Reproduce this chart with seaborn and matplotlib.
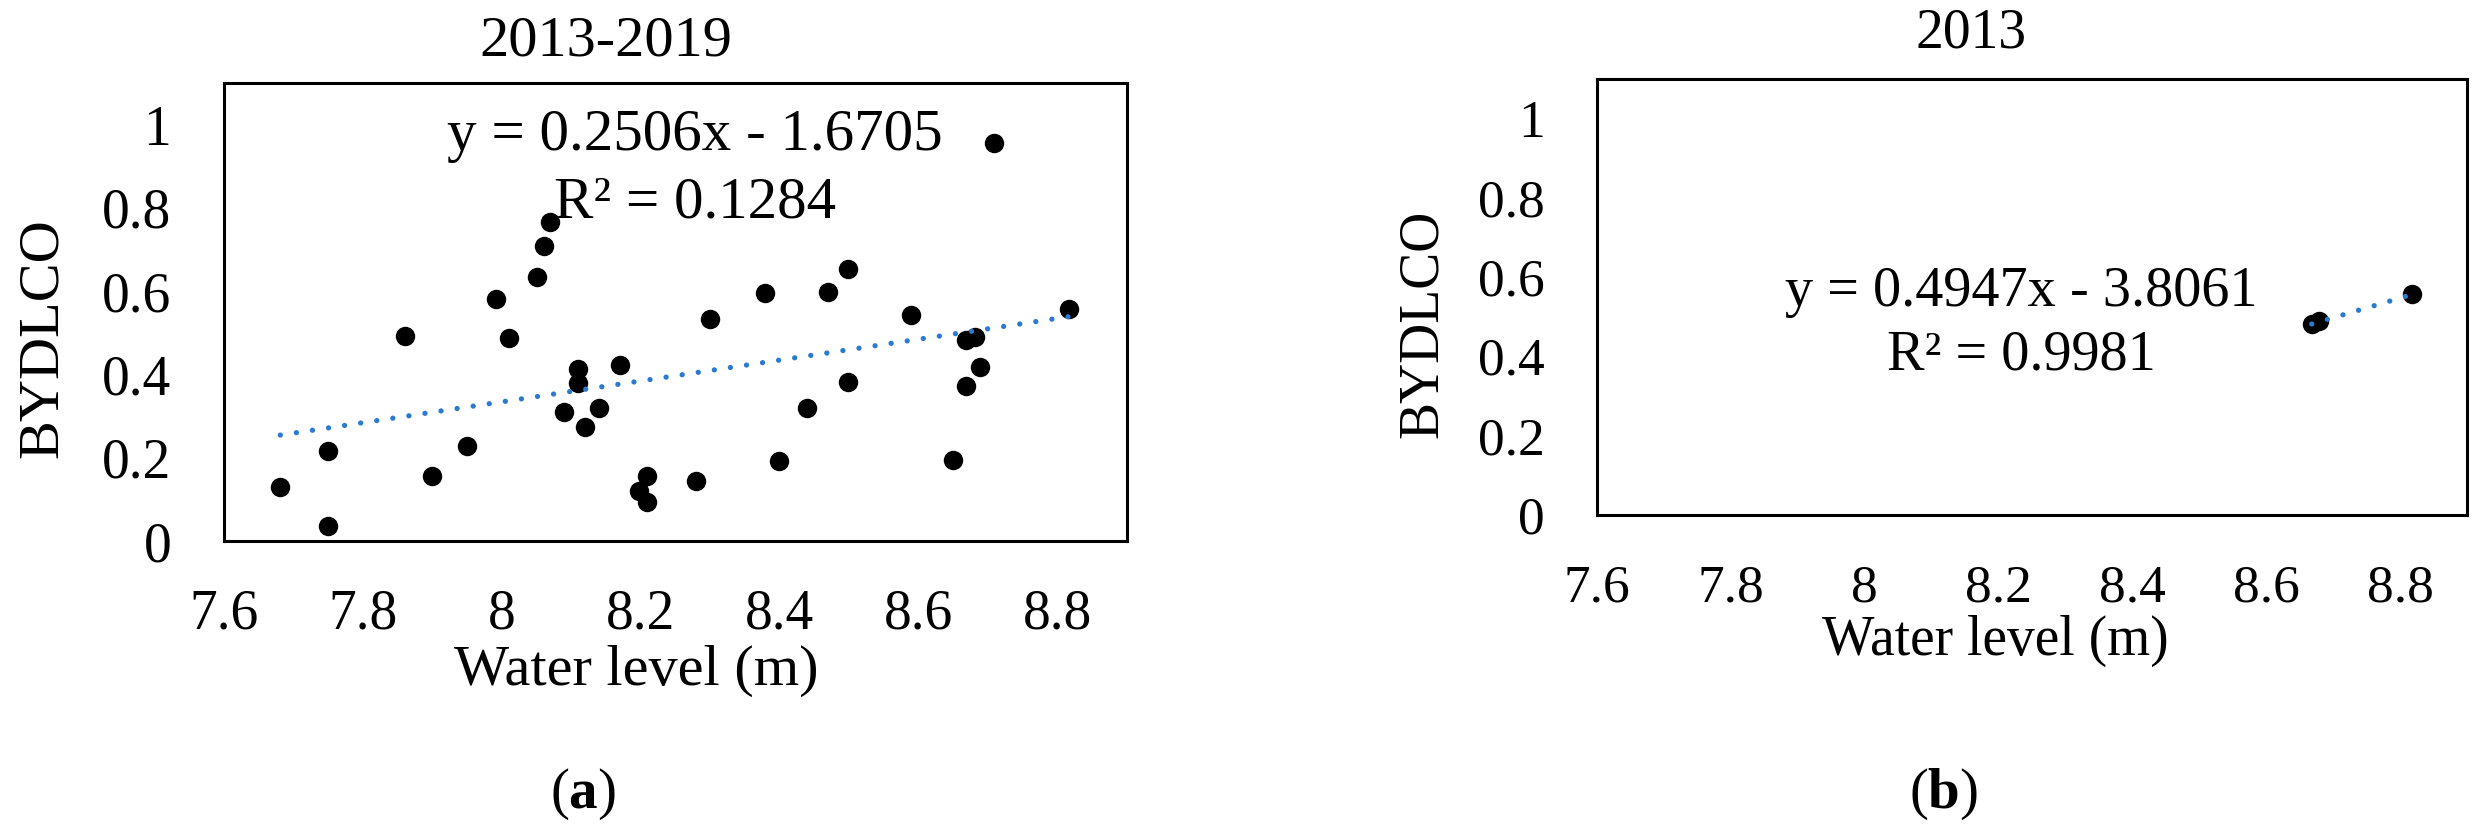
import matplotlib
matplotlib.use("Agg")
import matplotlib.pyplot as plt
import seaborn as sns
import numpy as np
import pandas as pd

# ---------------- data ----------------
water_level_all = [7.681, 7.750, 7.750, 7.861, 7.900, 7.950, 7.991, 8.010, 8.050, 8.060,
                   8.070, 8.089, 8.110, 8.110, 8.120, 8.140, 8.170, 8.209, 8.198, 8.209,
                   8.280, 8.300, 8.379, 8.399, 8.439, 8.469, 8.499, 8.499, 8.589, 8.649,
                   8.668, 8.681, 8.668, 8.688, 8.709, 8.817]
bydlco_all = [0.129, 0.037, 0.216, 0.493, 0.157, 0.227, 0.582, 0.488, 0.634, 0.708,
              0.765, 0.310, 0.413, 0.379, 0.273, 0.319, 0.423, 0.155, 0.119, 0.093,
              0.145, 0.534, 0.596, 0.191, 0.319, 0.598, 0.653, 0.383, 0.543, 0.195,
              0.483, 0.490, 0.373, 0.418, 0.955, 0.558]

water_level_2013 = [8.668, 8.679, 8.818]
bydlco_2013 = [0.482, 0.489, 0.558]

trend_all = {"slope": 0.2506, "intercept": -1.6705, "r2": 0.1284}
trend_2013 = {"slope": 0.4947, "intercept": -3.8061, "r2": 0.9981}

titles = ["2013-2019", "2013"]
panel_tags = ["a", "b"]
x_ticks = [7.6, 7.8, 8.0, 8.2, 8.4, 8.6, 8.8]
x_tick_labels = ["7.6", "7.8", "8", "8.2", "8.4", "8.6", "8.8"]
y_ticks = [0, 0.2, 0.4, 0.6, 0.8, 1.0]
y_tick_labels = ["0", "0.2", "0.4", "0.6", "0.8", "1"]
x_label = "Water level (m)"
y_label = "BYDLCO"

# ---------------- style ----------------
sns.set_theme(style="white")
plt.rcParams["font.family"] = ["Liberation Serif", "DejaVu Serif"]
plt.rcParams["mathtext.fontset"] = "custom"
plt.rcParams["mathtext.rm"] = "Liberation Serif"
plt.rcParams["mathtext.bf"] = "Liberation Serif:bold"

W, H = 2484, 832
fig = plt.figure(figsize=(W / 100, H / 100), dpi=100)
fig.patch.set_facecolor("white")

trend_color = "#2A7AD2"

def fx(px):
    return px / W

def fy(py):
    return 1 - py / H

panels = [
    dict(rect=[fx(224), fy(541), fx(1127) - fx(224), fy(83) - fy(541)],
         x=water_level_all, y=bydlco_all, trend=trend_all, fs=42, tfs=40,
         xpad=34.5, ypad=38,
         title_xy=(606, 56), xlabel_xy=(636, 685), ylabel_xy=(43, 338),
         tag_xy=(583, 808), eq_x=695, eq_y=(150, 218)),
    dict(rect=[fx(1597), fy(515), fx(2467) - fx(1597), fy(79) - fy(515)],
         x=water_level_2013, y=bydlco_2013, trend=trend_2013, fs=40, tfs=38.5,
         xpad=36, ypad=37.5,
         title_xy=(1971, 48), xlabel_xy=(1995, 655), ylabel_xy=(1423, 324),
         tag_xy=(1944, 808), eq_x=2021, eq_y=(306, 370)),
]

for i, p in enumerate(panels):
    ax = fig.add_axes(p["rect"])
    df = pd.DataFrame({"wl": p["x"], "v": p["y"]})
    tr = p["trend"]
    xl = np.array([min(p["x"]), max(p["x"])])
    line_df = pd.DataFrame({"wl": xl, "v": tr["slope"] * xl + tr["intercept"]})

    sns.scatterplot(data=df, x="wl", y="v", ax=ax, color="black", s=196,
                    linewidth=0, zorder=2)
    sns.lineplot(data=line_df, x="wl", y="v", ax=ax, color=trend_color,
                 linewidth=3.8, linestyle=(0, (0.01, 3.07)),
                 dash_capstyle="round", zorder=3)

    ax.set_xlim(7.6, 8.9)
    ax.set_ylim(0, 1.1)
    ax.set_xticks(x_ticks)
    ax.set_xticklabels(x_tick_labels)
    ax.set_yticks(y_ticks)
    ax.set_yticklabels(y_tick_labels)
    ax.tick_params(axis="x", length=0, pad=p["xpad"], labelsize=p["tfs"], colors="black")
    ax.tick_params(axis="y", length=0, pad=p["ypad"], labelsize=p["tfs"], colors="black")
    ax.set_xlabel("")
    ax.set_ylabel("")
    for sp in ax.spines.values():
        sp.set_visible(True)
        sp.set_color("black")
        sp.set_linewidth(2.2)
    ax.set_facecolor("white")
    ax.grid(False)

    fs = p["fs"]
    fig.text(fx(p["title_xy"][0]), fy(p["title_xy"][1]), titles[i],
             ha="center", va="baseline", fontsize=fs, color="black")
    fig.text(fx(p["xlabel_xy"][0]), fy(p["xlabel_xy"][1]), x_label,
             ha="center", va="baseline", fontsize=fs, color="black")
    fig.text(fx(p["ylabel_xy"][0]), fy(p["ylabel_xy"][1]), y_label,
             ha="center", va="center", rotation=90, fontsize=fs, color="black")
    fig.text(fx(p["tag_xy"][0]), fy(p["tag_xy"][1]),
             r"($\mathbf{%s}$)" % panel_tags[i],
             ha="center", va="baseline", fontsize=41, color="black")
    eq1 = "y = %.4fx - %.4f" % (tr["slope"], -tr["intercept"])
    eq2 = "R\u00b2 = %.4f" % tr["r2"]
    fig.text(fx(p["eq_x"]), fy(p["eq_y"][0]), eq1, ha="center", va="baseline",
             fontsize=fs + 0.5, color="black")
    fig.text(fx(p["eq_x"]), fy(p["eq_y"][1]), eq2, ha="center", va="baseline",
             fontsize=fs + 0.5, color="black")

fig.savefig("out.png", dpi=100, facecolor="white")
